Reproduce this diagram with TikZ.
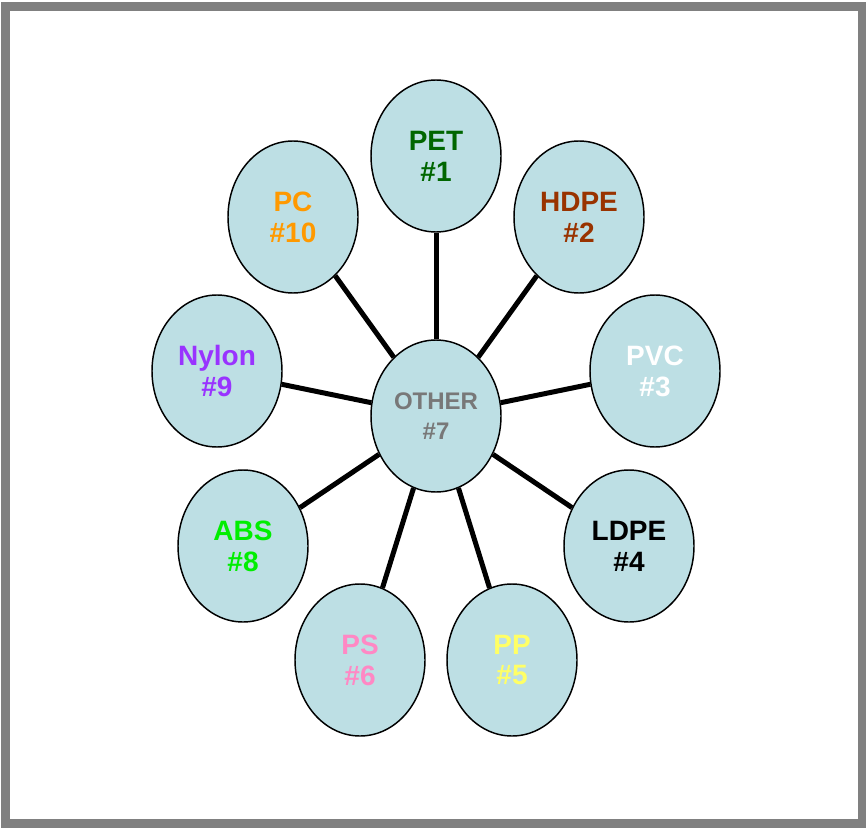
\documentclass[tikz,border=0pt]{standalone}
\usepackage{fontspec}
\setmainfont{Liberation Sans}
\usepackage{xcolor}
\usetikzlibrary{shapes.geometric, positioning, calc}

\definecolor{discfill}{RGB}{189,223,228}
\definecolor{framegray}{RGB}{128,128,128}
\definecolor{petgreen}{RGB}{0,102,0}
\definecolor{hdpebrown}{RGB}{153,51,0}
\definecolor{ppyellow}{RGB}{255,255,102}
\definecolor{pspink}{RGB}{255,136,196}
\definecolor{absgreen}{RGB}{0,238,0}
\definecolor{nylonviolet}{RGB}{153,51,255}
\definecolor{pcorange}{RGB}{255,153,0}
\definecolor{othergray}{RGB}{120,120,120}

\begin{document}
\begin{tikzpicture}[
    x=0.75pt, y=-0.75pt,
    disc/.style={
      ellipse, draw=black, line width=1.1pt, fill=discfill,
      minimum width=97.5pt, minimum height=114pt, inner sep=0pt,
      align=center, text=#1,
      font=\fontsize{21}{23.2}\selectfont\bfseries
    },
    disc/.default=black,
    spoke/.style={line width=3.75pt, black},
  ]

  %% ── Page and frame ────────────────────────────────────────────────────
  \useasboundingbox (0,0) rectangle (866,827);
  \fill[white] (0,0) rectangle (866,827);
  \draw[framegray, line width=6.75pt] (5.5,7) rectangle (862,823);

  %% ── Hub (smaller lettering) ───────────────────────────────────────────
  \node[disc=othergray, font=\fontsize{18}{23}\selectfont\bfseries]
      (other) at (436,416) {OTHER\\\#7};

  %% ── Ring (clockwise from the top) ─────────────────────────────────────
  \node[disc=petgreen]    (pet)   at (436,156) {PET\\\#1};
  \node[disc=hdpebrown]   (hdpe)  at (579,217) {HDPE\\\#2};
  \node[disc=white]       (pvc)   at (655,371) {PVC\\\#3};
  \node[disc=black]       (ldpe)  at (629,546) {LDPE\\\#4};
  \node[disc=ppyellow]    (pp)    at (512,660) {PP\\\#5};
  \node[disc=pspink]      (ps)    at (360,660) {PS\\\#6};
  \node[disc=absgreen]    (abs)   at (243,546) {ABS\\\#8};
  \node[disc=nylonviolet] (nylon) at (217,371) {Nylon\\\#9};
  \node[disc=pcorange]    (pc)    at (293,217) {PC\\\#10};

  %% ── Spokes ────────────────────────────────────────────────────────────
  \draw[spoke] (other) -- (pet);
  \draw[spoke] (other) -- (hdpe);
  \draw[spoke] (other) -- (pvc);
  \draw[spoke] (other) -- (ldpe);
  \draw[spoke] (other) -- (pp);
  \draw[spoke] (other) -- (ps);
  \draw[spoke] (other) -- (abs);
  \draw[spoke] (other) -- (nylon);
  \draw[spoke] (other) -- (pc);

\end{tikzpicture}
\end{document}
